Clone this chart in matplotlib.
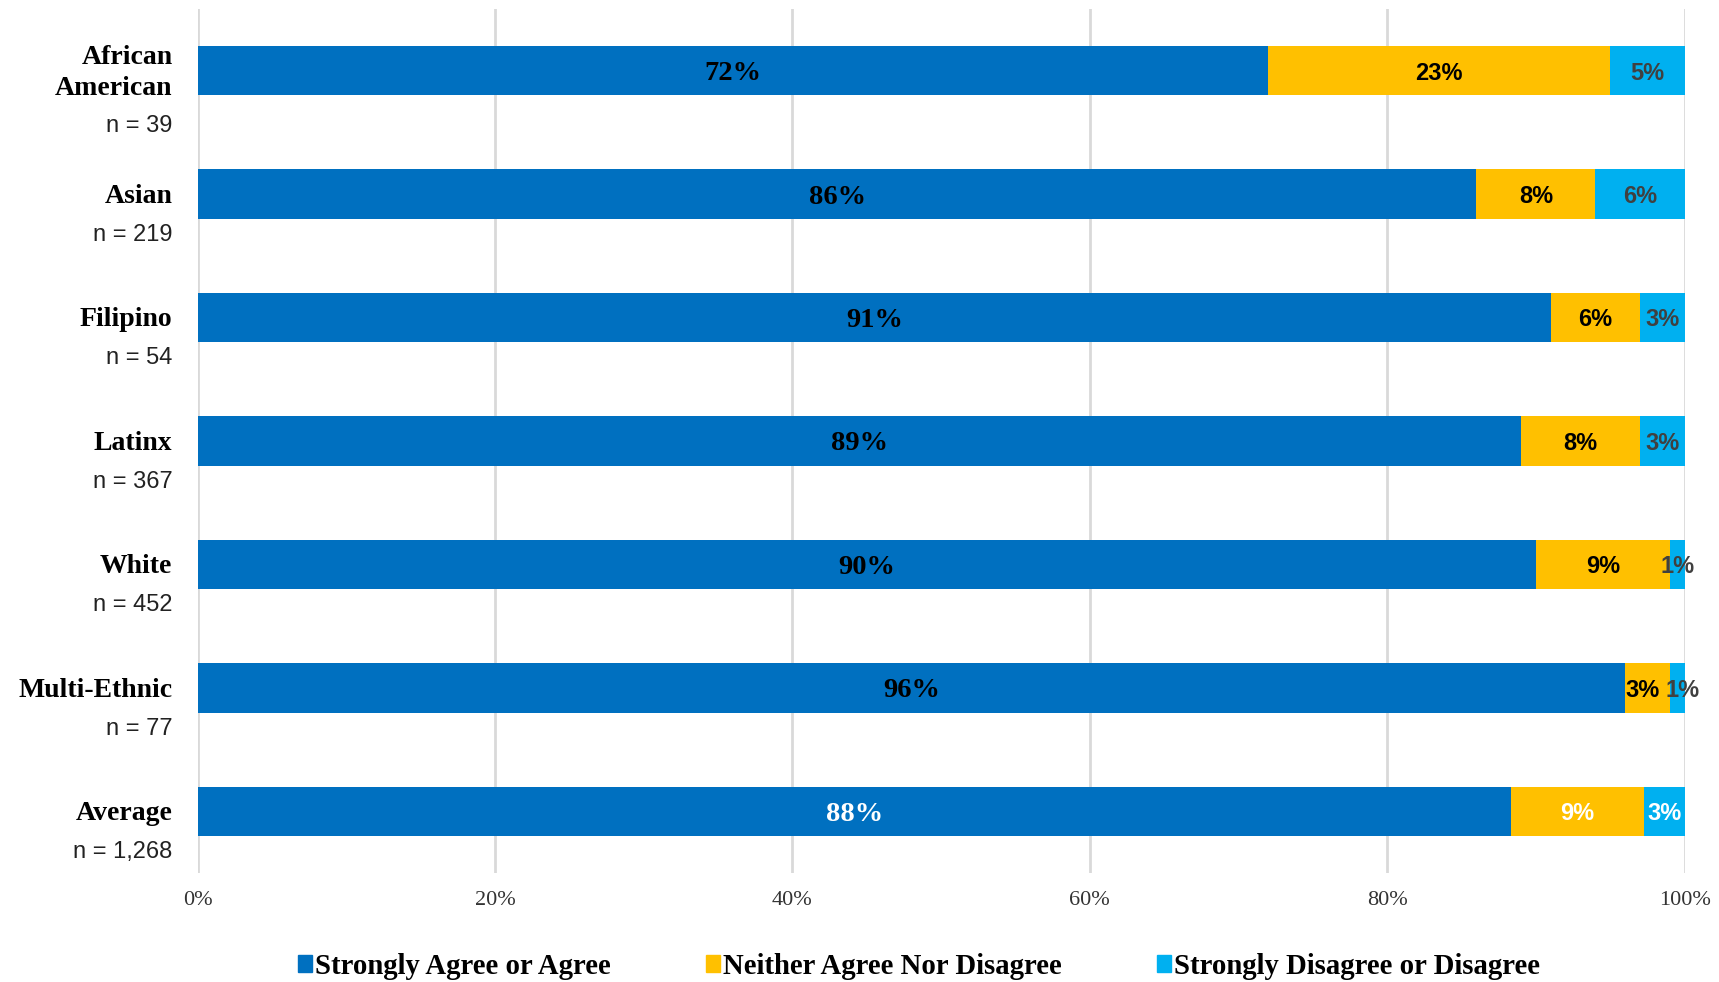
import matplotlib.pyplot as plt
import numpy as np
from matplotlib.patches import Patch

groups = ['African\nAmerican', 'Asian', 'Filipino', 'Latinx', 'White', 'Multi-Ethnic', 'Average']
n_labels = ['n = 39', 'n = 219', 'n = 54', 'n = 367', 'n = 452', 'n = 77', 'n = 1,268']
agree = [72, 86, 91, 89, 90, 96, 88.3]
neither = [23, 8, 6, 8, 9, 3, 9]
disagree = [5, 6, 3, 3, 1, 1, 2.7]
series_names = ['Strongly Agree or Agree', 'Neither Agree Nor Disagree', 'Strongly Disagree or Disagree']
xticks = [0, 20, 40, 60, 80, 100]

colors = ['#0070C0', '#FFC000', '#00B0F0']
txt_colors = ['#000000', '#000000', '#404040']
serif = 'Liberation Serif'
sans = 'Liberation Sans'

fig = plt.figure(figsize=(17.19, 9.82), dpi=100, facecolor='w')
ax = fig.add_axes([0.115, 0.111, 0.865, 0.880])

y = np.arange(len(groups))
left = np.zeros(len(groups))
for k, vals in enumerate([agree, neither, disagree]):
    vals = np.array(vals, dtype=float)
    ax.barh(y, vals, left=left, height=0.4, color=colors[k], zorder=3)
    for i, v in enumerate(vals):
        last = (i == len(groups) - 1)
        col = 'white' if last else txt_colors[k]
        xc = left[i] + v / 2
        # the tiny Multi-Ethnic segments: push labels apart a little, like the original
        if groups[i] == 'Multi-Ethnic' and k == 1:
            xc -= 0.35
        if groups[i] == 'Multi-Ethnic' and k == 2:
            xc += 0.35
        if k == 0:
            ax.text(xc, y[i], '{:.0f}%'.format(v), ha='center', va='center_baseline',
                    fontsize=20.5, fontweight='bold', family=serif, color=col, zorder=4)
        else:
            ax.text(xc, y[i], '{:.0f}%'.format(v), ha='center', va='center_baseline',
                    fontsize=17, fontweight='bold', family=sans, color=col, zorder=4)
    left += vals

ax.set_xlim(0, 100)
ax.set_ylim(len(groups) - 0.5, -0.5)
ax.set_yticks([])
ax.set_xticks(xticks)
ax.set_xticklabels(['{}%'.format(t) for t in xticks], family=serif, fontsize=16, color='#333333')
ax.tick_params(axis='x', length=0, pad=13)
ax.grid(axis='x', color='#D9D9D9', lw=2, zorder=0)
for s in ax.spines.values():
    s.set_visible(False)

tr = ax.get_yaxis_transform()
for i, (g, n) in enumerate(zip(groups, n_labels)):
    ax.text(-0.017, y[i] + 0.02, g, transform=tr, ha='right', va='center', fontsize=20,
            fontweight='bold', family=serif, linespacing=1.35)
    off = 0.45 if '\n' in g else 0.33
    ax.text(-0.017, y[i] + off, n, transform=tr, ha='right', va='center', fontsize=17,
            family=sans, color='#222222')

handles = [Patch(color=c, label=l) for c, l in zip(colors, series_names)]
leg = fig.legend(handles=handles, loc='center', bbox_to_anchor=(0.5346, 0.016), ncol=3,
                 frameon=False, handlelength=0.5, handleheight=0.5, handletextpad=0.1,
                 columnspacing=3.3, borderpad=0,
                 prop={'family': serif, 'weight': 'bold', 'size': 20.7})

fig.savefig('out.png', dpi=100)
